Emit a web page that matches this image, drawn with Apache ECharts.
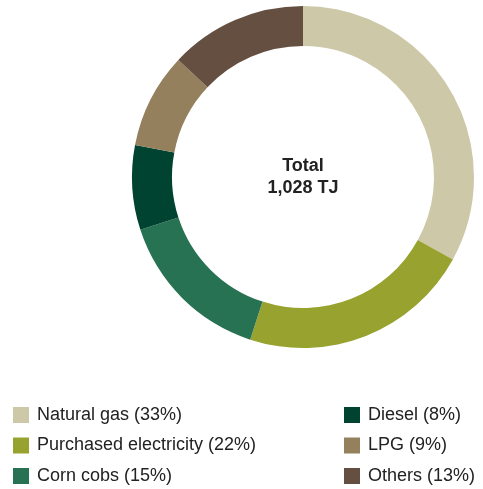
<!DOCTYPE html>
<html>
<head>
<meta charset="utf-8">
<script src="https://cdn.jsdelivr.net/npm/echarts@6/dist/echarts.min.js"></script>
<style>
html,body{margin:0;padding:0;background:#fff;}
#chart{width:483px;height:489px;}
</style>
</head>
<body>
<div id="chart"></div>
<script>
const categories = ["Natural gas", "Purchased electricity", "Corn cobs", "Diesel", "LPG", "Others"];
const shares = [33, 22, 15, 8, 9, 13];
const colors = ["#CDC8A8", "#98A22E", "#267253", "#004331", "#95805E", "#654F41"];
const centerLines = ["Total", "1,028 TJ"];

const chart = echarts.init(document.getElementById('chart'));
const data = categories.map((c, i) => ({ name: c, value: shares[i], itemStyle: { color: colors[i] } }));
const shareOf = {};
categories.forEach((c, i) => shareOf[c] = shares[i]);

const legendBase = {
  orient: 'vertical',
  itemWidth: 16,
  itemHeight: 16,
  itemGap: 12.5,
  icon: 'rect',
  selectedMode: false,
  padding: 0,
  textStyle: { fontFamily: 'Liberation Sans, Arial, sans-serif', fontSize: 18, color: '#222', padding: [0, 0, 0, 3] },
  formatter: name => name + ' (' + shareOf[name] + '%)'
};

chart.setOption({
  animation: false,
  legend: [
    Object.assign({}, legendBase, { left: 13, top: 406, data: categories.slice(0, 3) }),
    Object.assign({}, legendBase, { left: 344, top: 406, data: categories.slice(3) })
  ],
  title: {
    text: centerLines.join('\n'),
    left: 303, top: 155,
    padding: 0,
    textAlign: 'center',
    textStyle: { fontFamily: 'Liberation Sans, Arial, sans-serif', fontSize: 18, fontWeight: 'bold', color: '#222', lineHeight: 22 }
  },
  series: [{
    type: 'pie',
    center: [303, 177],
    radius: [131, 171],
    startAngle: 90,
    clockwise: true,
    label: { show: false },
    labelLine: { show: false },
    emphasis: { disabled: true },
    data: data
  }]
});
</script>
</body>
</html>
